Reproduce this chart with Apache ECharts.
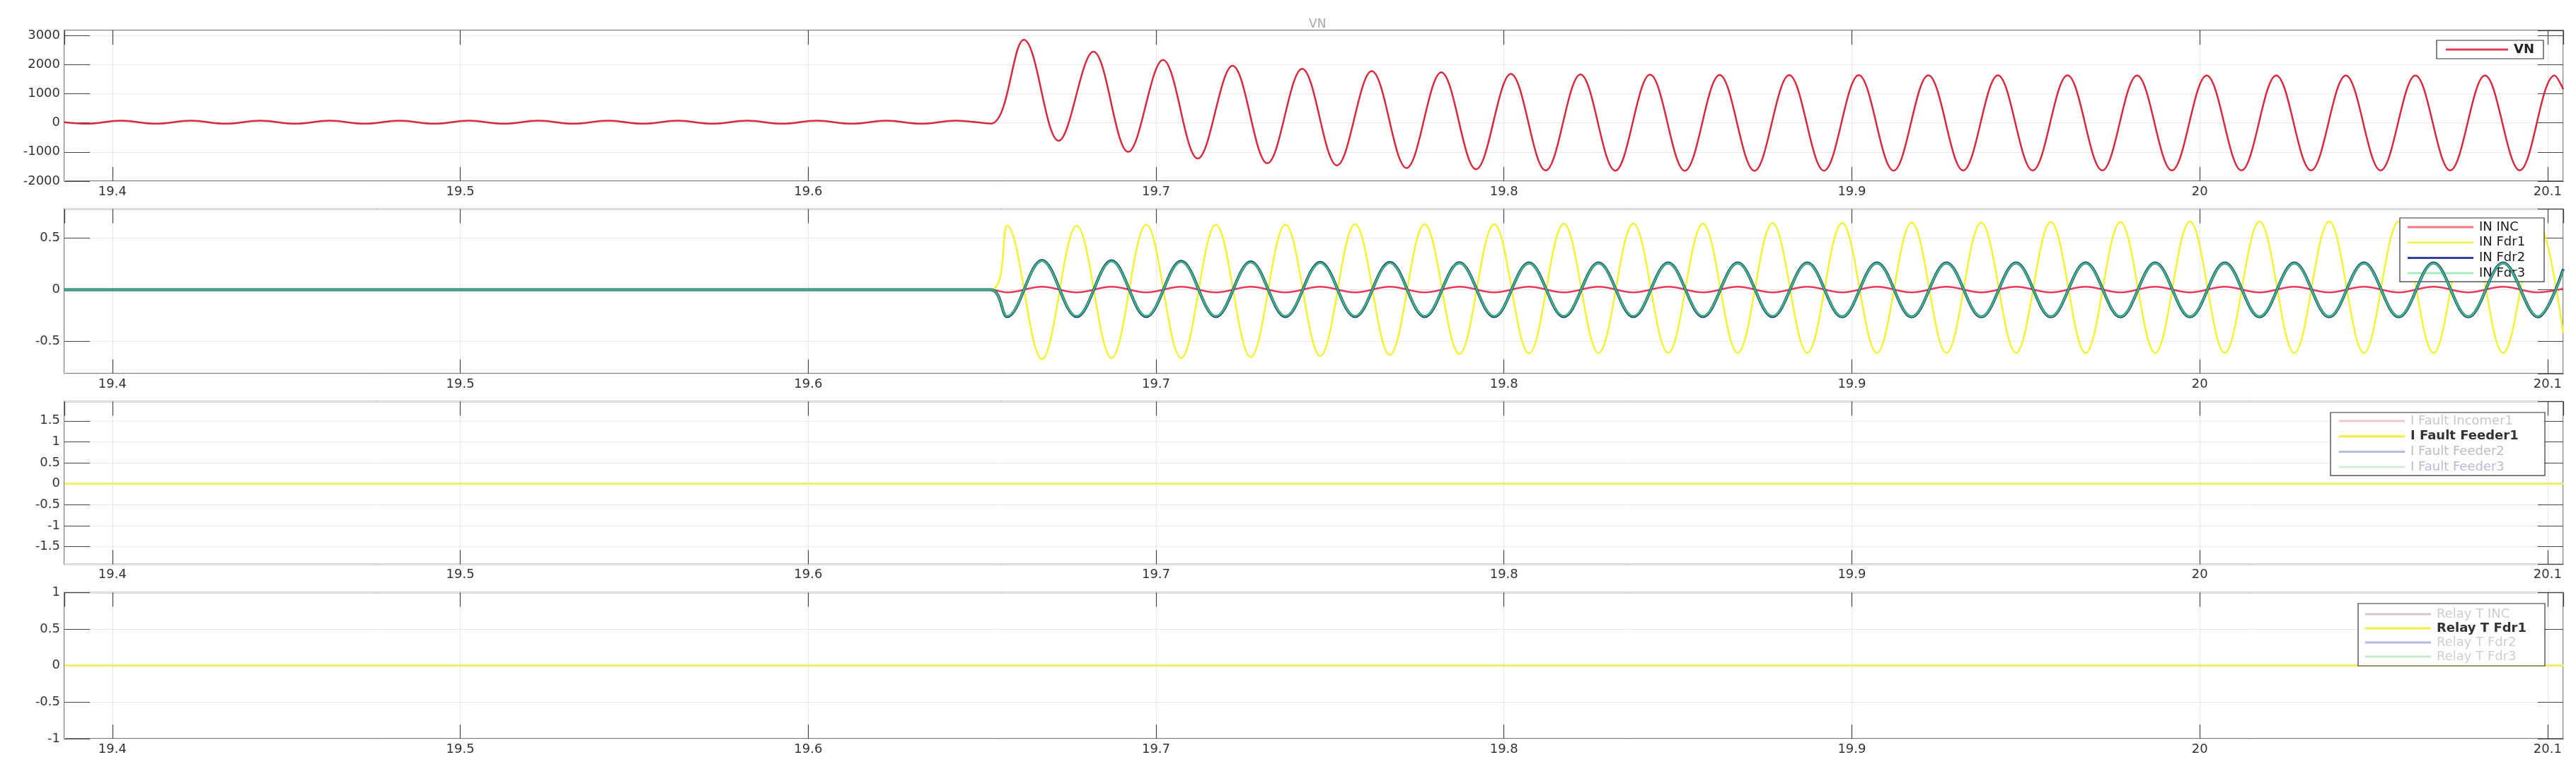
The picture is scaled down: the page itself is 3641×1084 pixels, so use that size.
<!DOCTYPE html>
<html>
<head>
<meta charset="utf-8">
<script src="https://cdn.jsdelivr.net/npm/echarts@6/dist/echarts.min.js"></script>
<style>
  html, body { margin: 0; padding: 0; background: #fff; }
  #chart { width: 3641px; height: 1084px; }
</style>
</head>
<body>
<div id="chart"></div>
<script>
// x range of all four panels (s)
const xMin = 19.3862
const xMax = 20.1045

// panel 1 : VN, read at the ripple / peaks / troughs
const vnTime = [
  19.3862,
  19.3925, 19.4025, 19.4125, 19.4225, 19.4325, 19.4425, 19.4525, 19.4625, 19.4725, 19.4825,
  19.4925, 19.5025, 19.5125, 19.5225, 19.5325, 19.5425, 19.5525, 19.5625, 19.5725, 19.5825,
  19.5925, 19.6025, 19.6125, 19.6225, 19.6325, 19.6425,
  19.6526,
  19.662, 19.672, 19.682, 19.692, 19.702, 19.712, 19.722, 19.732, 19.742, 19.752,
  19.762, 19.772, 19.782, 19.792, 19.802, 19.812, 19.822, 19.832, 19.842, 19.852,
  19.862, 19.872, 19.882, 19.892, 19.902, 19.912, 19.922, 19.932, 19.942, 19.952,
  19.962, 19.972, 19.982, 19.992, 20.002, 20.012, 20.022, 20.032, 20.042, 20.052,
  20.062, 20.072, 20.082, 20.092, 20.102,
  20.1045
]
const vnValue = [
  20,
  -30, 75, -30, 75, -30, 75, -30, 75, -30, 75,
  -30, 75, -30, 75, -30, 75, -30, 75, -30, 75,
  -30, 75, -30, 75, -30, 75,
  -25,
  2851, -614, 2443, -995, 2159, -1225, 1954, -1386, 1856, -1460,
  1775, -1550, 1733, -1592, 1677, -1631, 1660, -1640, 1650, -1645,
  1640, -1645, 1635, -1640, 1632, -1640, 1630, -1635, 1628, -1635,
  1628, -1632, 1625, -1632, 1625, -1630, 1622, -1630, 1622, -1630,
  1620, -1628, 1620, -1628, 1620,
  1150
]

// panel 2 : neutral currents
const inTime = [
  19.3862, 19.6525,
  19.6572, 19.6672, 19.6772, 19.6872, 19.6972, 19.7072, 19.7172, 19.7272, 19.7372, 19.7472,
  19.7572, 19.7672, 19.7772, 19.7872, 19.7972, 19.8072, 19.8172, 19.8272, 19.8372, 19.8472,
  19.8572, 19.8672, 19.8772, 19.8872, 19.8972, 19.9072, 19.9172, 19.9272, 19.9372, 19.9472,
  19.9572, 19.9672, 19.9772, 19.9872, 19.9972, 20.0072, 20.0172, 20.0272, 20.0372, 20.0472,
  20.0572, 20.0672, 20.0772, 20.0872, 20.0972,
  20.1045
]
const inInc = [
  0, 0,
  -0.025, 0.03, -0.025, 0.03, -0.025, 0.03, -0.025, 0.03, -0.025, 0.03,
  -0.025, 0.03, -0.025, 0.03, -0.025, 0.03, -0.025, 0.03, -0.025, 0.03,
  -0.025, 0.03, -0.025, 0.03, -0.025, 0.03, -0.025, 0.03, -0.025, 0.03,
  -0.025, 0.03, -0.025, 0.03, -0.025, 0.03, -0.025, 0.03, -0.025, 0.03,
  -0.025, 0.03, -0.025, 0.03, -0.025,
  0.01
]
const inFdr1 = [
  0, 0,
  0.62, -0.67, 0.62, -0.66, 0.63, -0.66, 0.63, -0.65, 0.63, -0.64,
  0.635, -0.63, 0.635, -0.62, 0.635, -0.615, 0.64, -0.61, 0.64, -0.61,
  0.64, -0.61, 0.645, -0.61, 0.645, -0.61, 0.65, -0.61, 0.65, -0.61,
  0.655, -0.61, 0.655, -0.61, 0.66, -0.61, 0.66, -0.61, 0.66, -0.61,
  0.66, -0.61, 0.66, -0.61, 0.66,
  -0.42
]
const inFdr2 = [
  0, 0,
  -0.26, 0.285, -0.26, 0.28, -0.26, 0.275, -0.26, 0.27, -0.26, 0.265,
  -0.26, 0.265, -0.26, 0.262, -0.26, 0.26, -0.26, 0.26, -0.26, 0.26,
  -0.26, 0.26, -0.26, 0.26, -0.262, 0.26, -0.262, 0.26, -0.262, 0.26,
  -0.262, 0.26, -0.262, 0.26, -0.262, 0.26, -0.262, 0.26, -0.262, 0.26,
  -0.262, 0.26, -0.262, 0.26, -0.262,
  0.2
]
const inFdr3 = [
  0, 0,
  -0.255, 0.28, -0.255, 0.275, -0.255, 0.27, -0.255, 0.265, -0.255, 0.26,
  -0.255, 0.26, -0.255, 0.258, -0.255, 0.256, -0.255, 0.256, -0.255, 0.256,
  -0.255, 0.256, -0.255, 0.256, -0.258, 0.256, -0.258, 0.256, -0.258, 0.256,
  -0.258, 0.256, -0.258, 0.256, -0.258, 0.256, -0.258, 0.256, -0.258, 0.256,
  -0.258, 0.256, -0.258, 0.256, -0.258,
  0.19
]

// panels 3 and 4 : flat signals
const flatTime = [19.3862, 20.1045]
const faultIncomer1 = [0, 0]
const faultFeeder1 = [0, 0]
const faultFeeder2 = [0, 0]
const faultFeeder3 = [0, 0]
const relayInc = [0, 0]
const relayFdr1 = [0, 0]
const relayFdr2 = [0, 0]
const relayFdr3 = [0, 0]

function pairs(t, v) {
  return t.map((x, i) => [x, v[i]])
}

const chart = echarts.init(document.getElementById('chart'), null, { renderer: 'canvas' })

const FONT = 'DejaVu Sans'
const grids = [
  { top: 43, height: 213 },
  { top: 295.5, height: 232.5 },
  { top: 567.5, height: 230 },
  { top: 837.5, height: 206.5 }
]
const yRanges = [
  { min: -2000, max: 3170, interval: 1000, showMin: true, showMax: false },
  { min: -0.81, max: 0.78, splitNumber: 3, showMin: false, showMax: false },
  { min: -1.92, max: 1.96, splitNumber: 7, showMin: false, showMax: false },
  { min: -1, max: 1, interval: 0.5, showMin: true, showMax: true }
]

const tickStyle = { color: '#444', width: 1.2 }
const xAxes = []
const yAxes = []
grids.forEach((g, i) => {
  xAxes.push({
    type: 'value', gridIndex: i, min: xMin, max: xMax, splitNumber: 7,
    axisLine: { show: false, onZero: false },
    axisTick: { inside: true, length: 20, lineStyle: tickStyle },
    splitLine: { show: true, lineStyle: { color: '#e8e8e8', width: 1 } },
    axisLabel: {
      color: '#333', fontFamily: FONT, fontSize: 18, margin: 6,
      showMinLabel: false, showMaxLabel: false
    }
  })
  xAxes.push({
    type: 'value', gridIndex: i, position: 'top', min: xMin, max: xMax, splitNumber: 7,
    axisLine: { show: false, onZero: false },
    axisTick: { inside: true, length: 20, lineStyle: tickStyle },
    splitLine: { show: false },
    axisLabel: { show: false }
  })
  const r = yRanges[i]
  const yBase = {
    type: 'value', gridIndex: i, min: r.min, max: r.max,
    interval: r.interval, splitNumber: r.splitNumber
  }
  yAxes.push(Object.assign({}, yBase, {
    axisLine: { show: false, onZero: false },
    axisTick: { inside: true, length: 36, lineStyle: tickStyle },
    splitLine: { show: true, lineStyle: { color: '#e8e8e8', width: 1 } },
    axisLabel: {
      color: '#333', fontFamily: FONT, fontSize: 18, margin: 6,
      showMinLabel: r.showMin, showMaxLabel: r.showMax,
      formatter: v => String(Math.round(v * 1e6) / 1e6)
    }
  }))
  yAxes.push(Object.assign({}, yBase, {
    position: 'right',
    axisLine: { show: false, onZero: false },
    axisTick: { inside: true, length: 36, lineStyle: tickStyle },
    splitLine: { show: false },
    axisLabel: { show: false }
  }))
})

function line(name, idx, t, v, color, width, z) {
  return {
    name: name, type: 'line',
    xAxisIndex: idx * 2, yAxisIndex: idx * 2,
    data: pairs(t, v),
    smooth: 0.36, symbol: 'none', animation: false,
    lineStyle: { color: color, width: width },
    itemStyle: { color: color },
    z: z || 2
  }
}

const series = [
  line('VN', 0, vnTime, vnValue, '#d8283e', 2.5),

  line('IN INC', 1, inTime, inInc, '#e83a5a', 2.5, 2),
  line('IN Fdr1', 1, inTime, inFdr1, '#f2f22e', 2.5, 3),
  line('IN Fdr2', 1, inTime, inFdr2, '#1d3c8c', 4, 4),
  line('IN Fdr3', 1, inTime, inFdr3, '#3cb878', 2.5, 5),

  line('I Fault Incomer1', 2, flatTime, faultIncomer1, '#f0c8cc', 2, 2),
  line('I Fault Feeder2', 2, flatTime, faultFeeder2, '#b8bcd8', 2, 2),
  line('I Fault Feeder3', 2, flatTime, faultFeeder3, '#cce8d4', 2, 2),
  line('I Fault Feeder1', 2, flatTime, faultFeeder1, '#f2f24a', 2.5, 3),

  line('Relay T INC', 3, flatTime, relayInc, '#dcc8d0', 2, 2),
  line('Relay T Fdr2', 3, flatTime, relayFdr2, '#b8b8e8', 2, 2),
  line('Relay T Fdr3', 3, flatTime, relayFdr3, '#c8e8c8', 2, 2),
  line('Relay T Fdr1', 3, flatTime, relayFdr1, '#f2f24a', 2.5, 3)
]

function legendItem(name, textColor, lineColor, bold) {
  return {
    name: name,
    icon: 'rect',
    textStyle: { color: textColor, fontWeight: bold ? 'bold' : 'normal' },
    itemStyle: { color: lineColor, borderWidth: 0 }
  }
}

function legend(right, top, itemWidth, itemGap, padding, textWidth, data) {
  return {
    orient: 'vertical', selectedMode: false,
    right: right, top: top,
    itemWidth: itemWidth, itemHeight: 3, itemGap: itemGap, padding: padding,
    backgroundColor: '#fff', borderColor: '#333', borderWidth: 1.2,
    textStyle: {
      fontFamily: FONT, fontSize: 18, lineHeight: 18, color: '#222',
      width: textWidth, padding: [0, 0, 0, 3]
    },
    data: data
  }
}

const legends = [
  legend(46, 57, 88, 4, [4, 6, 4, 13], 36, [
    legendItem('VN', '#222', '#e0405a', true)
  ]),
  legend(45, 308, 93, 3.7, [4, 8, 3, 11], 84, [
    legendItem('IN INC', '#1a1a1a', '#f07a80'),
    legendItem('IN Fdr1', '#1a1a1a', '#f0f060'),
    legendItem('IN Fdr2', '#1a1a1a', '#3040a0'),
    legendItem('IN Fdr3', '#1a1a1a', '#a8ecc0')
  ]),
  legend(44, 583, 93, 3.7, [3, 10, 3, 12], 180, [
    legendItem('I Fault Incomer1', '#c8c8c8', '#f0c8cc'),
    legendItem('I Fault Feeder1', '#333', '#eef040', true),
    legendItem('I Fault Feeder2', '#bdbdbd', '#b8bcd8'),
    legendItem('I Fault Feeder3', '#b8b8d4', '#d4ecd8')
  ]),
  legend(44, 853, 93, 2, [6, 10, 4, 10], 143, [
    legendItem('Relay T INC', '#cccccc', '#dcc8d0'),
    legendItem('Relay T Fdr1', '#333', '#eef040', true),
    legendItem('Relay T Fdr2', '#cfcfcf', '#b8b8e8'),
    legendItem('Relay T Fdr3', '#cfcfcf', '#c8e8c8')
  ])
]

chart.setOption({
  backgroundColor: '#fff',
  animation: false,
  title: {
    text: 'VN', left: 1845, top: 21,
    textStyle: { color: '#a8a8a8', fontFamily: FONT, fontSize: 17, fontWeight: 'normal' }
  },
  grid: grids.map(g => ({
    left: 91, right: 18, top: g.top, height: g.height,
    show: true, borderColor: '#555', borderWidth: 1.5, backgroundColor: '#fff'
  })),
  xAxis: xAxes,
  yAxis: yAxes,
  legend: legends,
  series: series
})
</script>
</body>
</html>
